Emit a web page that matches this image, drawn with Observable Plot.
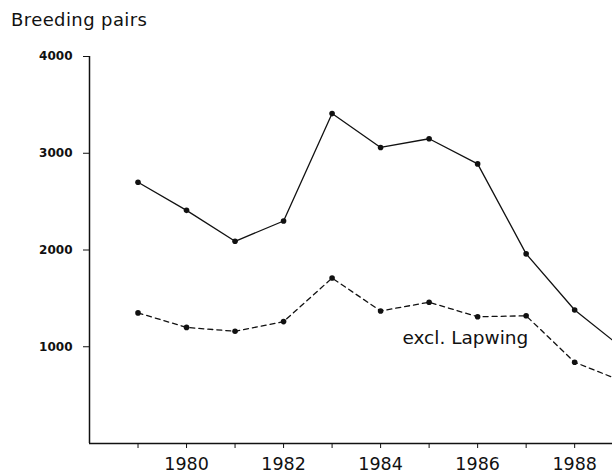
<!DOCTYPE html>
<html>
<head>
<meta charset="utf-8">
<script src="https://cdn.jsdelivr.net/npm/d3@7"></script>
<script src="https://cdn.jsdelivr.net/npm/@observablehq/plot@0.6"></script>
<style>
  html, body { margin: 0; padding: 0; background: #fff; width: 612px; height: 474px; overflow: hidden; }
  #title { height: 25px; padding-top: 11px; padding-left: 11px; font: 18px "DejaVu Sans", sans-serif; line-height: 18px; color: #111; letter-spacing: 0.4px; }
  #chart svg { display: block; }
</style>
</head>
<body>
<div id="title">Breeding pairs</div>
<div id="chart"></div>
<script>
const years     = [1979, 1980, 1981, 1982, 1983, 1984, 1985, 1986, 1987, 1988, 1989];
const allPairs  = [2700, 2410, 2090, 2300, 3410, 3060, 3150, 2890, 1960, 1380, 980];
const exclLapwing = [1350, 1200, 1160, 1260, 1710, 1370, 1460, 1310, 1320, 840, 640];
const yTicks = [1000, 2000, 3000, 4000];
const xLabelYears = [1980, 1982, 1984, 1986, 1988];
const seriesLabel = {year: 1984.45, value: 1090, text: "excl. Lapwing"};
const lastShownYear = 1988;

const solid = years.map((y, i) => ({year: y, value: allPairs[i]}));
const dashed = years.map((y, i) => ({year: y, value: exclLapwing[i]}));

const plot = Plot.plot({
  width: 612,
  height: 438,
  marginLeft: 89,
  marginRight: 0,
  marginTop: 20,
  marginBottom: 31,
  style: {fontFamily: "DejaVu Sans, sans-serif", color: "#111", background: "#fff", overflow: "visible"},
  x: {domain: [1978, 1988.78]},
  y: {domain: [0, 4000]},
  marks: [
    Plot.ruleY([0], {stroke: "#111", strokeWidth: 1.5}),
    Plot.ruleX([1978], {y1: 0, y2: 4000, stroke: "#111", strokeWidth: 1.5}),
    Plot.axisY({ticks: yTicks, tickSize: 6, tickPadding: 11, tickFormat: d => String(d), fontSize: 12, fontWeight: "bold", label: null}),
    Plot.axisX({ticks: years.filter(y => y <= lastShownYear), tickSize: 5, tickFormat: () => "", label: null}),
    Plot.axisX({ticks: xLabelYears, tickSize: 0, tickPadding: 14, tickFormat: d => String(d), fontSize: 17.5, label: null}),
    Plot.line(solid, {x: "year", y: "value", stroke: "#111", strokeWidth: 1.3, clip: true}),
    Plot.line(dashed, {x: "year", y: "value", stroke: "#111", strokeWidth: 1.3, strokeDasharray: "5,4", clip: true}),
    Plot.dot(solid.filter(d => d.year <= lastShownYear), {x: "year", y: "value", r: 2.8, fill: "#111"}),
    Plot.dot(dashed.filter(d => d.year <= lastShownYear), {x: "year", y: "value", r: 2.8, fill: "#111"}),
    Plot.text([seriesLabel], {x: "year", y: "value", text: "text", textAnchor: "start", lineAnchor: "middle", fontSize: 18.5, fill: "#111"})
  ]
});
document.getElementById("chart").appendChild(plot);
</script>
</body>
</html>
